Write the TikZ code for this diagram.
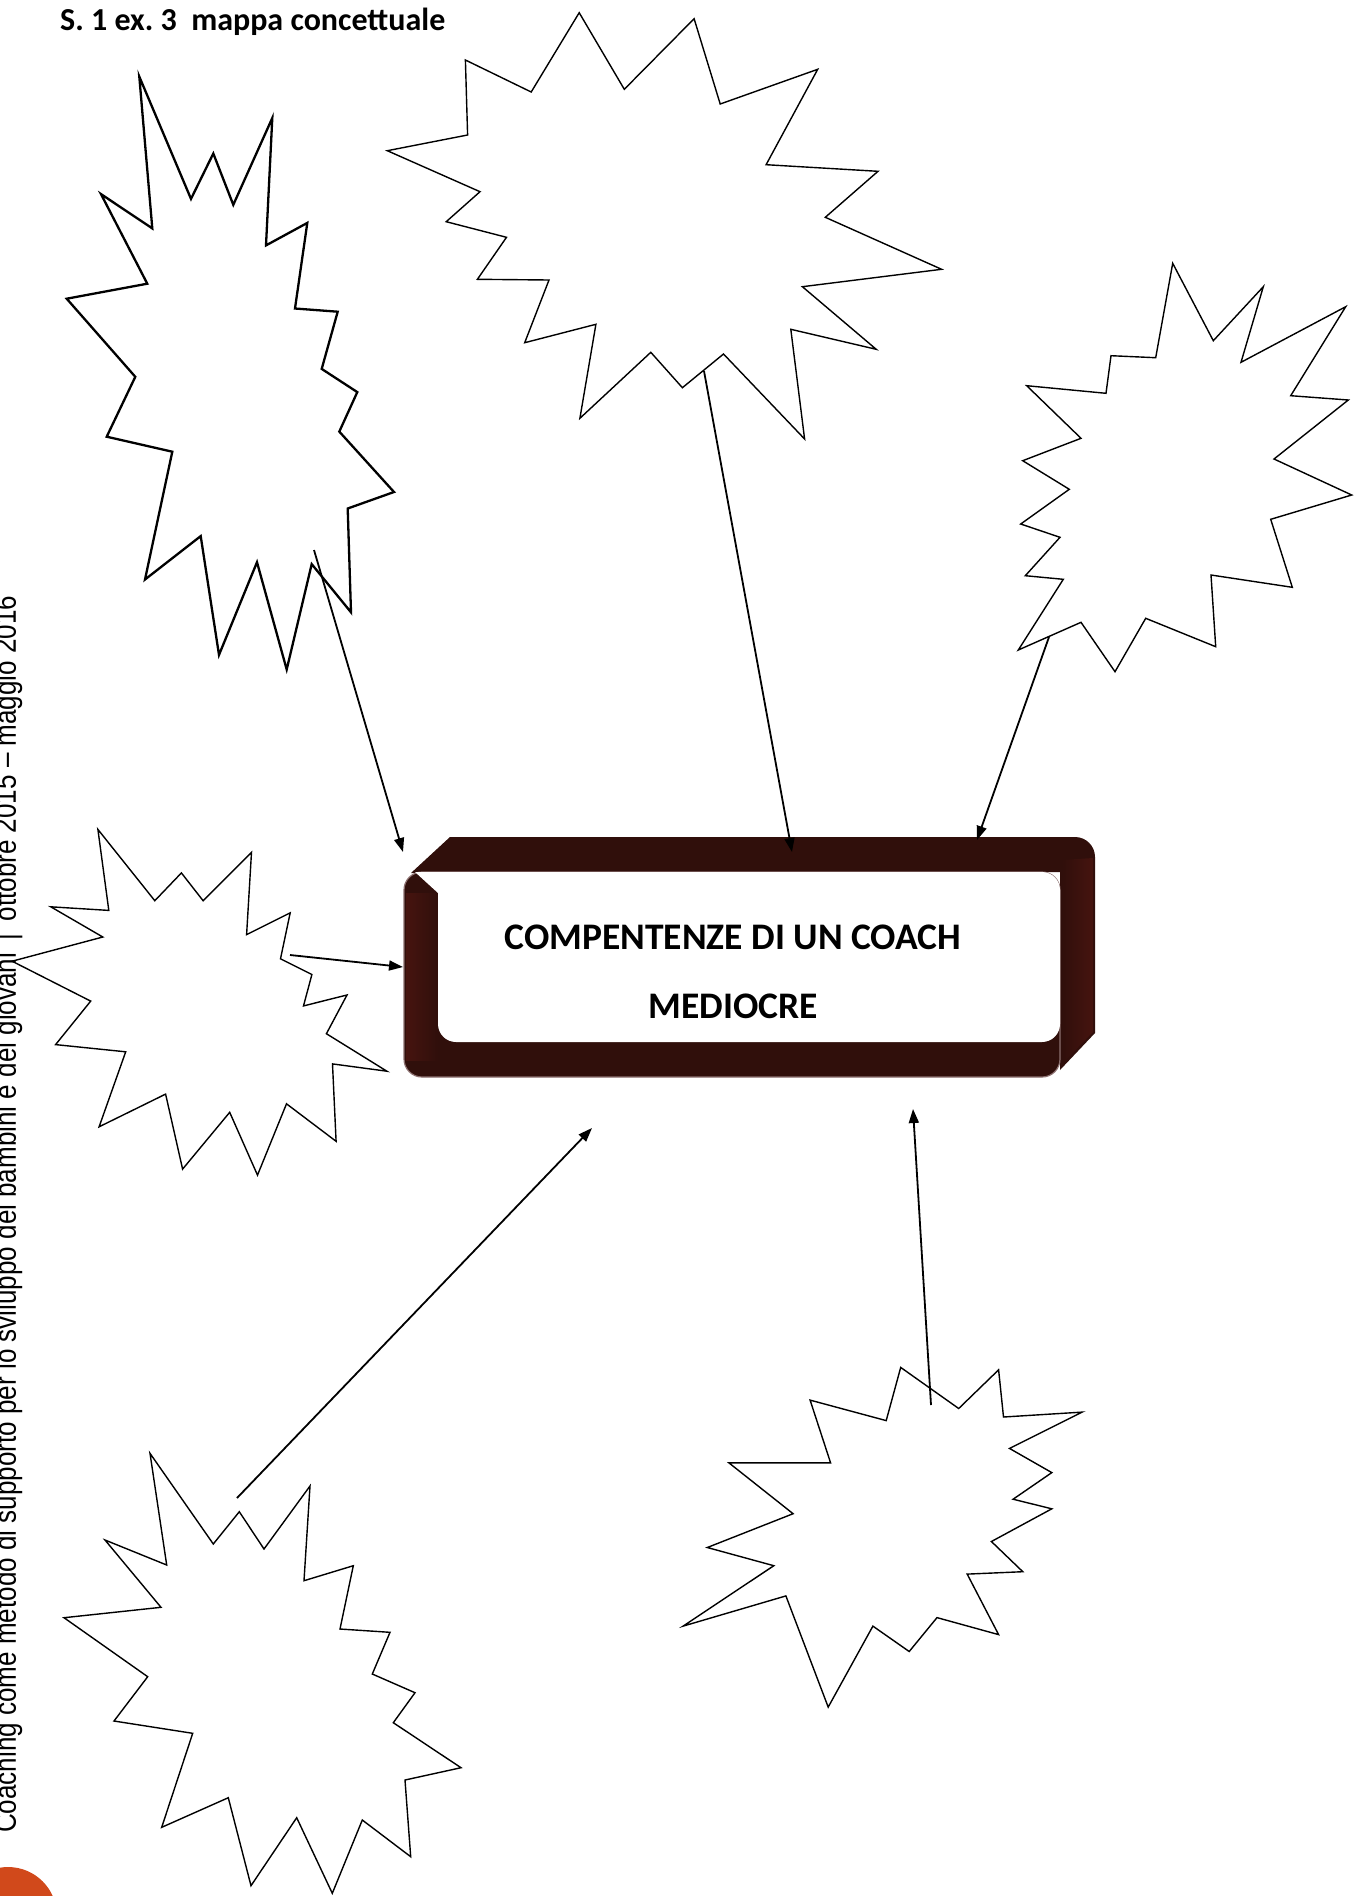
\documentclass[tikz,border=0pt]{standalone}
\usepackage{fontspec}
\setmainfont{Carlito}
\newfontfamily\footfont[FakeStretch=0.84]{Liberation Sans}
\usetikzlibrary{arrows.meta}
\frenchspacing
\definecolor{boxdark}{RGB}{48,15,11}
\definecolor{boxside}{RGB}{70,20,15}
\definecolor{boxedge}{RGB}{140,112,112}
\definecolor{pageorange}{RGB}{209,73,27}
\tikzset{
  burst/.style={draw=black, fill=white, line width=1.4pt, line join=miter},
  conn/.style={line width=1.8pt, -{Triangle[length=14pt,width=10pt]}},
  boxtext/.style={font=\bfseries\fontsize{37.5}{40}\selectfont, inner sep=0pt, anchor=base},
}
\begin{document}
\begin{tikzpicture}[x=1pt,y=-1pt]
\useasboundingbox (0,0) rectangle (1353,1896);
\fill[white] (0,0) rectangle (1353,1896);

% page decoration
\fill[pageorange] (8,1916) circle (49);

% header
\node[anchor=base west, inner sep=0pt, font=\bfseries\fontsize{32}{34}\selectfont] (title) at (60,30) {S. 1 ex. 3\ \ mappa concettuale};

% star 1 (top left)
\draw[burst, line width=2.3pt] (139.3,76.6) -- (191.0,198.9) -- (213.3,153.5) -- (233.3,204.8) -- (272.3,118.0) -- (266.0,245.4) -- (307.3,222.9) -- (295.0,308.5) -- (337.7,311.7) -- (321.7,368.9) -- (357.3,392.1) -- (339.3,431.6) -- (394.0,492.0) -- (347.7,508.5) -- (351.0,612.3) -- (311.7,564.1) -- (286.7,669.5) -- (257.0,562.2) -- (219.0,654.9) -- (200.7,536.1) -- (145.0,579.5) -- (172.3,451.7) -- (106.7,436.7) -- (135.3,376.8) -- (66.7,298.7) -- (147.3,283.7) -- (101.0,194.1) -- (152.3,228.4) -- cycle;

% star 2 (top centre)
\draw[burst] (579.2,12.7) -- (624.3,89.3) -- (694.1,18.7) -- (720.2,104.0) -- (817.7,69.3) -- (766.1,164.7) -- (878.0,171.3) -- (825.3,217.3) -- (941.6,269.3) -- (802.4,286.7) -- (876.2,349.3) -- (790.8,329.3) -- (804.6,439.0) -- (723.5,354.0) -- (682.4,387.7) -- (650.8,352.3) -- (579.9,418.3) -- (595.9,324.3) -- (524.7,342.7) -- (549.0,280.0) -- (477.4,279.3) -- (506.5,237.3) -- (446.2,221.7) -- (480.0,191.7) -- (387.3,150.7) -- (467.6,135.0) -- (465.4,60.0) -- (531.2,92.0) -- cycle;

% star 3 (right)
\draw[burst] (1172.7,263.3) -- (1213.3,340.7) -- (1263.3,286.7) -- (1241.0,362.3) -- (1345.7,306.7) -- (1290.7,395.7) -- (1348.3,400.0) -- (1274.0,459.0) -- (1351.7,495.0) -- (1270.7,519.3) -- (1292.3,587.3) -- (1211.0,575.0) -- (1215.7,646.7) -- (1145.7,618.3) -- (1115.0,671.7) -- (1081.0,622.3) -- (1018.3,650.0) -- (1063.3,579.3) -- (1025.3,575.7) -- (1060.0,537.3) -- (1020.7,524.0) -- (1069.3,489.3) -- (1022.7,460.7) -- (1081.0,438.3) -- (1026.7,385.7) -- (1106.0,393.3) -- (1111.0,355.7) -- (1155.7,357.7) -- cycle;

% star 4 (left middle)
\draw[burst] (97.9,829.4) -- (154.8,900.7) -- (181.4,872.9) -- (203.1,900.7) -- (251.5,852.3) -- (246.6,934.6) -- (290.2,912.8) -- (280.5,958.8) -- (311.9,974.5) -- (303.5,1005.9) -- (347.0,995.0) -- (326.4,1033.7) -- (386.9,1071.2) -- (332.5,1063.9) -- (336.1,1141.3) -- (286.5,1103.8) -- (257.5,1175.1) -- (229.7,1112.3) -- (182.6,1169.1) -- (165.6,1094.1) -- (99.1,1126.8) -- (125.7,1051.8) -- (55.6,1044.6) -- (90.7,1001.1) -- (12.1,961.2) -- (102.8,937.0) -- (50.8,906.8) -- (108.8,910.4) -- cycle;

% star 5 (bottom left)
\draw[burst] (150.0,1453.3) -- (213.3,1544.0) -- (239.3,1511.7) -- (264.0,1549.0) -- (310.0,1486.0) -- (304.0,1580.7) -- (353.3,1565.7) -- (340.0,1629.0) -- (390.0,1632.3) -- (372.3,1674.0) -- (415.0,1692.7) -- (393.3,1722.7) -- (461.0,1767.7) -- (405.0,1780.0) -- (410.7,1856.7) -- (362.3,1820.0) -- (332.3,1893.3) -- (296.7,1817.7) -- (251.0,1885.7) -- (228.3,1797.7) -- (161.7,1827.3) -- (192.7,1733.3) -- (114.0,1721.0) -- (147.7,1676.7) -- (64.0,1617.7) -- (161.0,1607.3) -- (105.0,1540.0) -- (166.7,1565.0) -- cycle;

% star 6 (bottom right)
\draw[burst] (810.1,1400.1) -- (830.6,1462.9) -- (729.0,1462.9) -- (793.1,1513.7) -- (707.3,1547.5) -- (773.8,1565.7) -- (683.1,1626.1) -- (785.9,1595.9) -- (828.2,1707.1) -- (872.9,1626.1) -- (909.2,1651.5) -- (937.0,1617.6) -- (998.6,1634.6) -- (967.2,1574.1) -- (1022.8,1571.7) -- (991.4,1541.5) -- (1051.8,1508.8) -- (1013.1,1499.2) -- (1051.8,1472.6) -- (1009.5,1448.4) -- (1082.1,1412.1) -- (1003.5,1417.0) -- (998.6,1369.8) -- (958.7,1408.5) -- (900.7,1367.4) -- (886.2,1420.6) -- cycle;

% vertical footer text
\node[anchor=base west, rotate=90, inner sep=0pt, font=\footfont\fontsize{31}{33}\selectfont] (foot) at (16,1833) {Coaching come metodo di supporto per lo sviluppo dei bambini e dei giovani \,|\, ottobre 2015 – maggio 2016};

% central box
\fill[boxdark] (411,873) -- (450,837) -- (1075,837) to[out=0,in=90] (1095,857) -- (1095,1033) -- (1060,1070) -- (1060,872) -- cycle;
\draw[draw=boxedge, line width=1.2pt, fill=boxdark, rounded corners=18pt] (404,872) rectangle (1060,1077);
\shade[left color=boxside, right color=boxdark] (406,893) rectangle (438,1060);
\shade[left color=boxdark, right color=boxside] (1062,860) -- (1093,858) -- (1093,1032) -- (1062,1064) -- cycle;
\fill[white] (438,893) -- (415,872) [rounded corners=18pt] -- (1060,872) -- (1060,1042) -- (438,1042) [sharp corners] -- (438,893) -- cycle;
\node[boxtext] (t1) at (733,949) {COMPENTENZE DI UN COACH};
\node[boxtext] (t2) at (733,1018) {MEDIOCRE};

% connectors
\coordinate (s1) at (314,550);  \coordinate (b1) at (403,852);
\coordinate (s2) at (704,371);  \coordinate (b2) at (792,852);
\coordinate (s3) at (1049,637); \coordinate (b3) at (977,840);
\coordinate (s4) at (290,955);  \coordinate (b4) at (403,967);
\coordinate (s5) at (237,1498); \coordinate (b5) at (592,1128);
\coordinate (s6) at (931,1405); \coordinate (b6) at (913,1109);
\draw[conn] (s1) -- (b1);
\draw[conn] (s2) -- (b2);
\draw[conn] (s3) -- (b3);
\draw[conn] (s4) -- (b4);
\draw[conn] (s5) -- (b5);
\draw[conn] (s6) -- (b6);
\end{tikzpicture}
\end{document}
